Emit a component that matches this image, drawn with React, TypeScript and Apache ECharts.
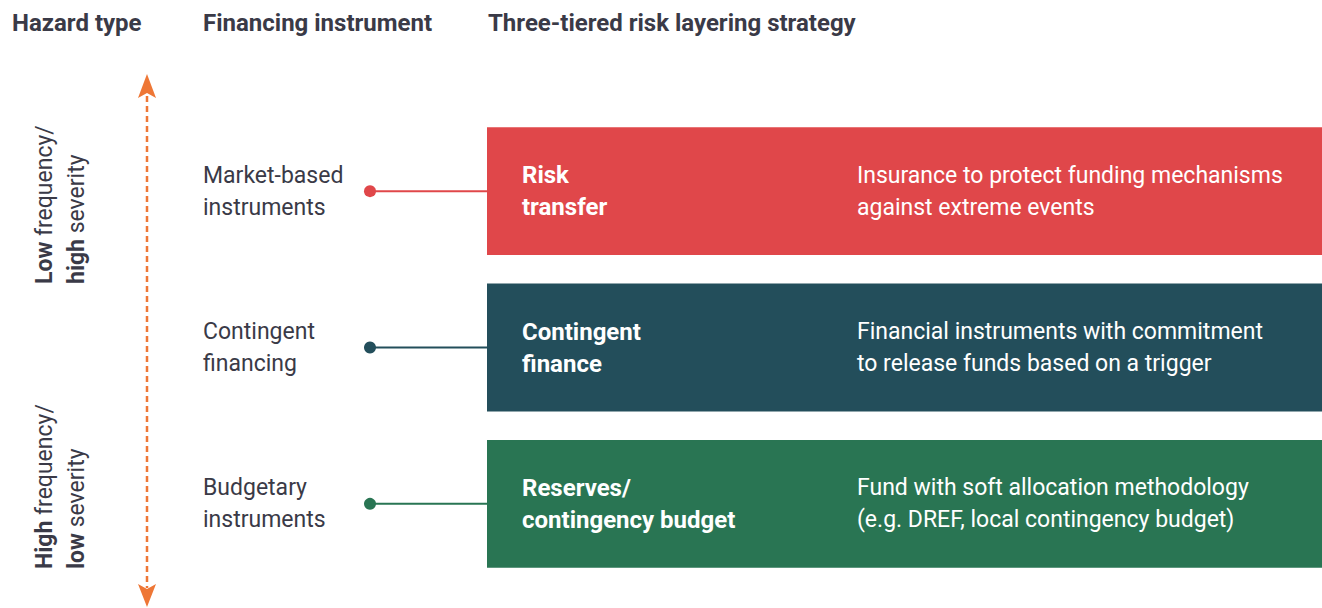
import React, { useEffect, useRef } from "react";
import * as echarts from "echarts";

const headers = ["Hazard type", "Financing instrument", "Three-tiered risk layering strategy"];
const tierNames = ["Risk transfer", "Contingent finance", "Reserves/contingency budget"];
const instrumentLabels = [
  ["Market-based", "instruments"],
  ["Contingent", "financing"],
  ["Budgetary", "instruments"],
];
const tierTitles = [
  ["Risk", "transfer"],
  ["Contingent", "finance"],
  ["Reserves/", "contingency budget"],
];
const tierDescriptions = [
  ["Insurance to protect funding mechanisms", "against extreme events"],
  ["Financial instruments with commitment", "to release funds based on a trigger"],
  ["Fund with soft allocation methodology", "(e.g. DREF, local contingency budget)"],
];
const tierColors = ["#E0474A", "#234E5B", "#297553"];
const hazardTop = ["{b|Low} frequency/", "{b|high} severity"];
const hazardBottom = ["{b|High} frequency/", "{b|low} severity"];

const FONT = "Roboto, 'Noto Sans', sans-serif";
const TEXT = "#3A3A47";
const ORANGE = "#EE7736";

export default function App() {
  const ref = useRef<HTMLDivElement>(null);
  useEffect(() => {
    if (!ref.current) return;
    const chart = echarts.init(ref.current, undefined, { renderer: "svg" });
    const rotated = (lines: string[], x: number, y: number) => ({
      type: "text",
      x,
      y,
      rotation: Math.PI / 2,
      style: {
        text: lines.join("\n"),
        fill: TEXT,
        fontFamily: FONT,
        fontSize: 23,
        lineHeight: 32,
        align: "left",
        verticalAlign: "top",
        rich: {
          b: { fontWeight: "bold", fontFamily: FONT, fontSize: 23, lineHeight: 32, fill: TEXT },
        },
      },
    });
    chart.setOption({
      animation: false,
      grid: { left: 0, right: 0, top: 113, bottom: 26 },
      xAxis: { type: "value", min: 0, max: 1322, show: false },
      yAxis: { type: "category", data: tierNames, inverse: true, show: false },
      graphic: [
        ...headers.map((h, i) => ({
          type: "text",
          x: [12, 203, 488][i],
          y: 23,
          style: {
            text: h,
            fill: TEXT,
            fontFamily: FONT,
            fontWeight: "bold",
            fontSize: 24,
            align: "left",
            verticalAlign: "middle",
          },
        })),
        {
          type: "line",
          shape: { x1: 147, y1: 96, x2: 147, y2: 588 },
          style: { stroke: ORANGE, lineWidth: 2.5, lineDash: [6, 4] },
        },
        {
          type: "polygon",
          shape: { points: [[147, 74], [156, 98], [147, 93], [138, 98]] },
          style: { fill: ORANGE },
        },
        {
          type: "polygon",
          shape: { points: [[147, 607], [156, 584], [147, 589], [138, 584]] },
          style: { fill: ORANGE },
        },
        rotated(hazardTop, 28, 284),
        rotated(hazardBottom, 28, 569),
      ],
      series: [
        {
          type: "custom",
          data: tierNames.map((n, i) => [0, i]),
          encode: { x: 0, y: 1 },
          renderItem: (params: any, api: any) => {
            const i = params.dataIndex;
            const cy = api.coord([0, i])[1];
            const band = api.size([0, 1])[1];
            const h = band * 0.818;
            const xBox = api.coord([487, i])[0];
            const xEnd = api.coord([1322, i])[0];
            const xDot = api.coord([370, i])[0];
            const xLab = api.coord([203, i])[0];
            const xTitle = api.coord([522, i])[0];
            const xDesc = api.coord([857, i])[0];
            const color = tierColors[i];
            const txt = (lines: string[], x: number, fill: string, bold: boolean) => ({
              type: "text",
              style: {
                text: lines.join("\n"),
                x,
                y: cy,
                fill,
                fontFamily: FONT,
                fontSize: bold ? 24 : 23,
                fontWeight: bold ? "bold" : "normal",
                lineHeight: 32,
                align: "left",
                verticalAlign: "middle",
              },
            });
            return {
              type: "group",
              children: [
                {
                  type: "rect",
                  shape: { x: xBox, y: cy - h / 2, width: xEnd - xBox, height: h },
                  style: { fill: color },
                },
                {
                  type: "line",
                  shape: { x1: xDot, y1: cy, x2: xBox, y2: cy },
                  style: { stroke: color, lineWidth: 2 },
                },
                {
                  type: "circle",
                  shape: { cx: xDot, cy, r: 6 },
                  style: { fill: color },
                },
                txt(instrumentLabels[i], xLab, TEXT, false),
                txt(tierTitles[i], xTitle, "#FFFFFF", true),
                txt(tierDescriptions[i], xDesc, "#FFFFFF", false),
              ],
            };
          },
        },
      ],
    });
    return () => chart.dispose();
  }, []);
  return (
    <div
      ref={ref}
      style={{ position: "fixed", left: 0, top: 0, width: 1322, height: 608, background: "#fff" }}
    />
  );
}
